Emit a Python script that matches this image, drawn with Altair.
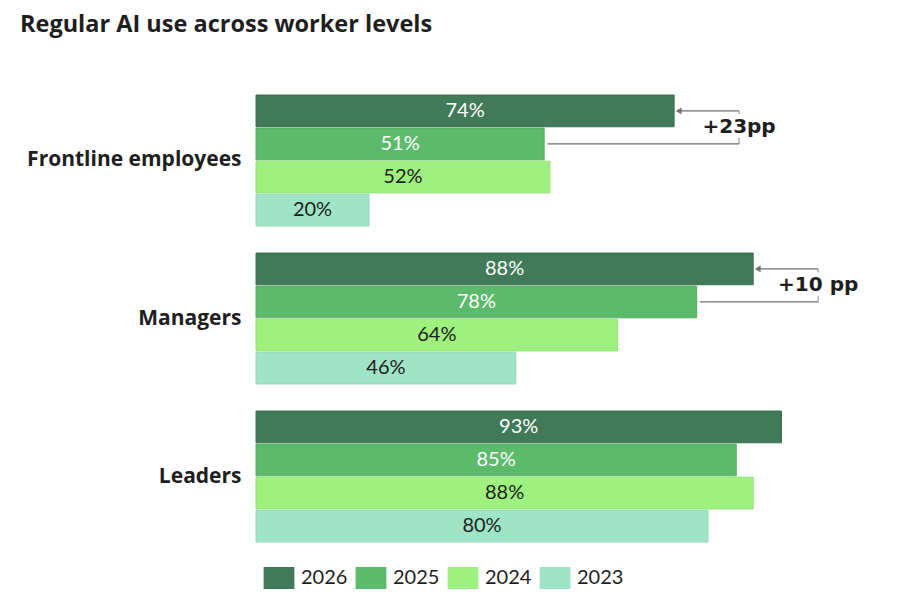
import altair as alt
import pandas as pd

# Share of workers using AI regularly, by level and survey year
groups = ["Frontline employees", "Managers", "Leaders"]
years = ["2026", "2025", "2024", "2023"]
frontline = [74, 51, 52, 20]
managers = [88, 78, 64, 46]
leaders = [93, 85, 88, 80]

# Year-over-year change callouts (2025 -> 2026)
callout_groups = ["Frontline employees", "Managers"]
callout_labels = ["+23pp", "+10 pp"]

colors = ["#417a58", "#5cba6b", "#9ef07f", "#9fe4c6"]
strokes = ["#3b6f50", "#54ad63", "#93e476", "#93d8ba"]
FONT = "Lato"
HEAD_FONT = "Open Sans"
CALLOUT_FONT = "DejaVu Sans"

series = {"Frontline employees": frontline, "Managers": managers, "Leaders": leaders}
rows = []
for g in groups:
    for y, v in zip(years, series[g]):
        rows.append({"group": g, "year": y, "value": v, "label": f"{v}%"})
df = pd.DataFrame(rows)

call_rows = []
for g, lab in zip(callout_groups, callout_labels):
    vals = series[g]
    call_rows.append({"group": g, "top": vals[0], "second": vals[1], "text": lab})
cdf = pd.DataFrame(call_rows)

y_enc = alt.Y(
    "group:N",
    sort=groups,
    scale=alt.Scale(paddingInner=0.171, paddingOuter=0),
    axis=alt.Axis(
        title=None, ticks=False, domain=False, labelFontSize=21,
        labelFont=HEAD_FONT, labelFontWeight="bold", labelColor="#1e1e1e",
        labelPadding=15, labelLimit=300,
    ),
)
# newest year first, drawn at the top of each group
offset_scale = alt.Scale(domain=years, paddingInner=0.04)
off_enc = alt.YOffset("year:N", scale=offset_scale)
x_scale = alt.Scale(domain=[0, 100], nice=False)

base = alt.Chart(df).encode(y=y_enc, yOffset=off_enc)

bars = base.mark_bar(strokeWidth=1).encode(
    x=alt.X("value:Q", scale=x_scale, axis=None),
    color=alt.Color(
        "year:N",
        sort=years,
        scale=alt.Scale(domain=years, range=colors),
        legend=alt.Legend(
            title=None, orient="none", direction="horizontal",
            legendX=12, legendY=472, symbolType="M-1.4,-1H1.4V1H-1.4Z",
            symbolSize=484, symbolStrokeWidth=0, symbolOpacity=1,
            labelFont=FONT, labelFontSize=20, labelColor="#1e1e1e",
            labelOffset=11, columnPadding=7,
        ),
    ),
    stroke=alt.Stroke("year:N", sort=years,
                      scale=alt.Scale(domain=years, range=strokes), legend=None),
)

labels = base.mark_text(font=FONT, fontSize=20, align="center", baseline="middle").transform_calculate(
    mid="datum.value / 2"
).encode(
    x=alt.X("mid:Q", scale=x_scale),
    text="label:N",
    color=alt.condition("datum.year >= 2025", alt.value("white"), alt.value("#1e1e1e")),
)

cbase = alt.Chart(cdf).transform_calculate(
    bracket="datum.top + 11.5",
    start="datum.second + 0.6",
    tip="datum.top + 0.8",
).encode(y=alt.Y("group:N", sort=groups))

line_gray = "#6f6f6f"

lower = cbase.mark_rule(color=line_gray, strokeWidth=1.2).encode(
    x=alt.X("start:Q", scale=x_scale), x2="bracket:Q",
    yOffset=alt.YOffset("yr:N"),
).transform_calculate(yr="'2025'")

upper = cbase.mark_rule(color=line_gray, strokeWidth=1.2).encode(
    x=alt.X("tip:Q", scale=x_scale), x2="bracket:Q",
    yOffset=alt.YOffset("yr:N"),
).transform_calculate(yr="'2026'")

# vertical connector: one bar-step above the group centre, i.e. on the
# boundary between the 2026 and 2025 bars
vertical = cbase.mark_tick(color=line_gray, thickness=1.2, size=33, yOffset=-33,
                           orient="vertical").encode(
    x=alt.X("bracket:Q", scale=x_scale),
)

arrow = cbase.mark_point(shape="triangle-left", filled=True, size=45, opacity=1,
                         color=line_gray).encode(
    x=alt.X("tip:Q", scale=x_scale),
    yOffset=alt.YOffset("yr:N"),
).transform_calculate(yr="'2026'")

halo = cbase.mark_text(font=CALLOUT_FONT, fontSize=20, fontWeight="bold", align="center",
                       baseline="middle", dy=16.5, stroke="white", strokeWidth=10,
                       fill="white").encode(
    x=alt.X("bracket:Q", scale=x_scale), text="text:N",
    yOffset=alt.YOffset("yr:N"),
).transform_calculate(yr="'2026'")

ctext = cbase.mark_text(font=CALLOUT_FONT, fontSize=20, fontWeight="bold", align="center",
                        baseline="middle", dy=16.5, color="#1e1e1e").encode(
    x=alt.X("bracket:Q", scale=x_scale), text="text:N",
    yOffset=alt.YOffset("yr:N"),
).transform_calculate(yr="'2026'")

chart = alt.layer(bars, labels, lower, upper, vertical, arrow, halo, ctext).resolve_scale(
    yOffset="shared"
).properties(
    width=565,
    height=447,
    title=alt.TitleParams(
        "Regular AI use across worker levels",
        anchor="start", frame="group", dx=-236, offset=58,
        font=HEAD_FONT, fontSize=23.5, fontWeight="bold", color="#1e1e1e",
    ),
    autosize=alt.AutoSizeParams(type="none"),
    padding={"left": 256, "top": 95, "right": 79, "bottom": 68},
).configure_view(stroke=None)

chart.save("out.html", embed_options={"renderer": "svg", "actions": False})
